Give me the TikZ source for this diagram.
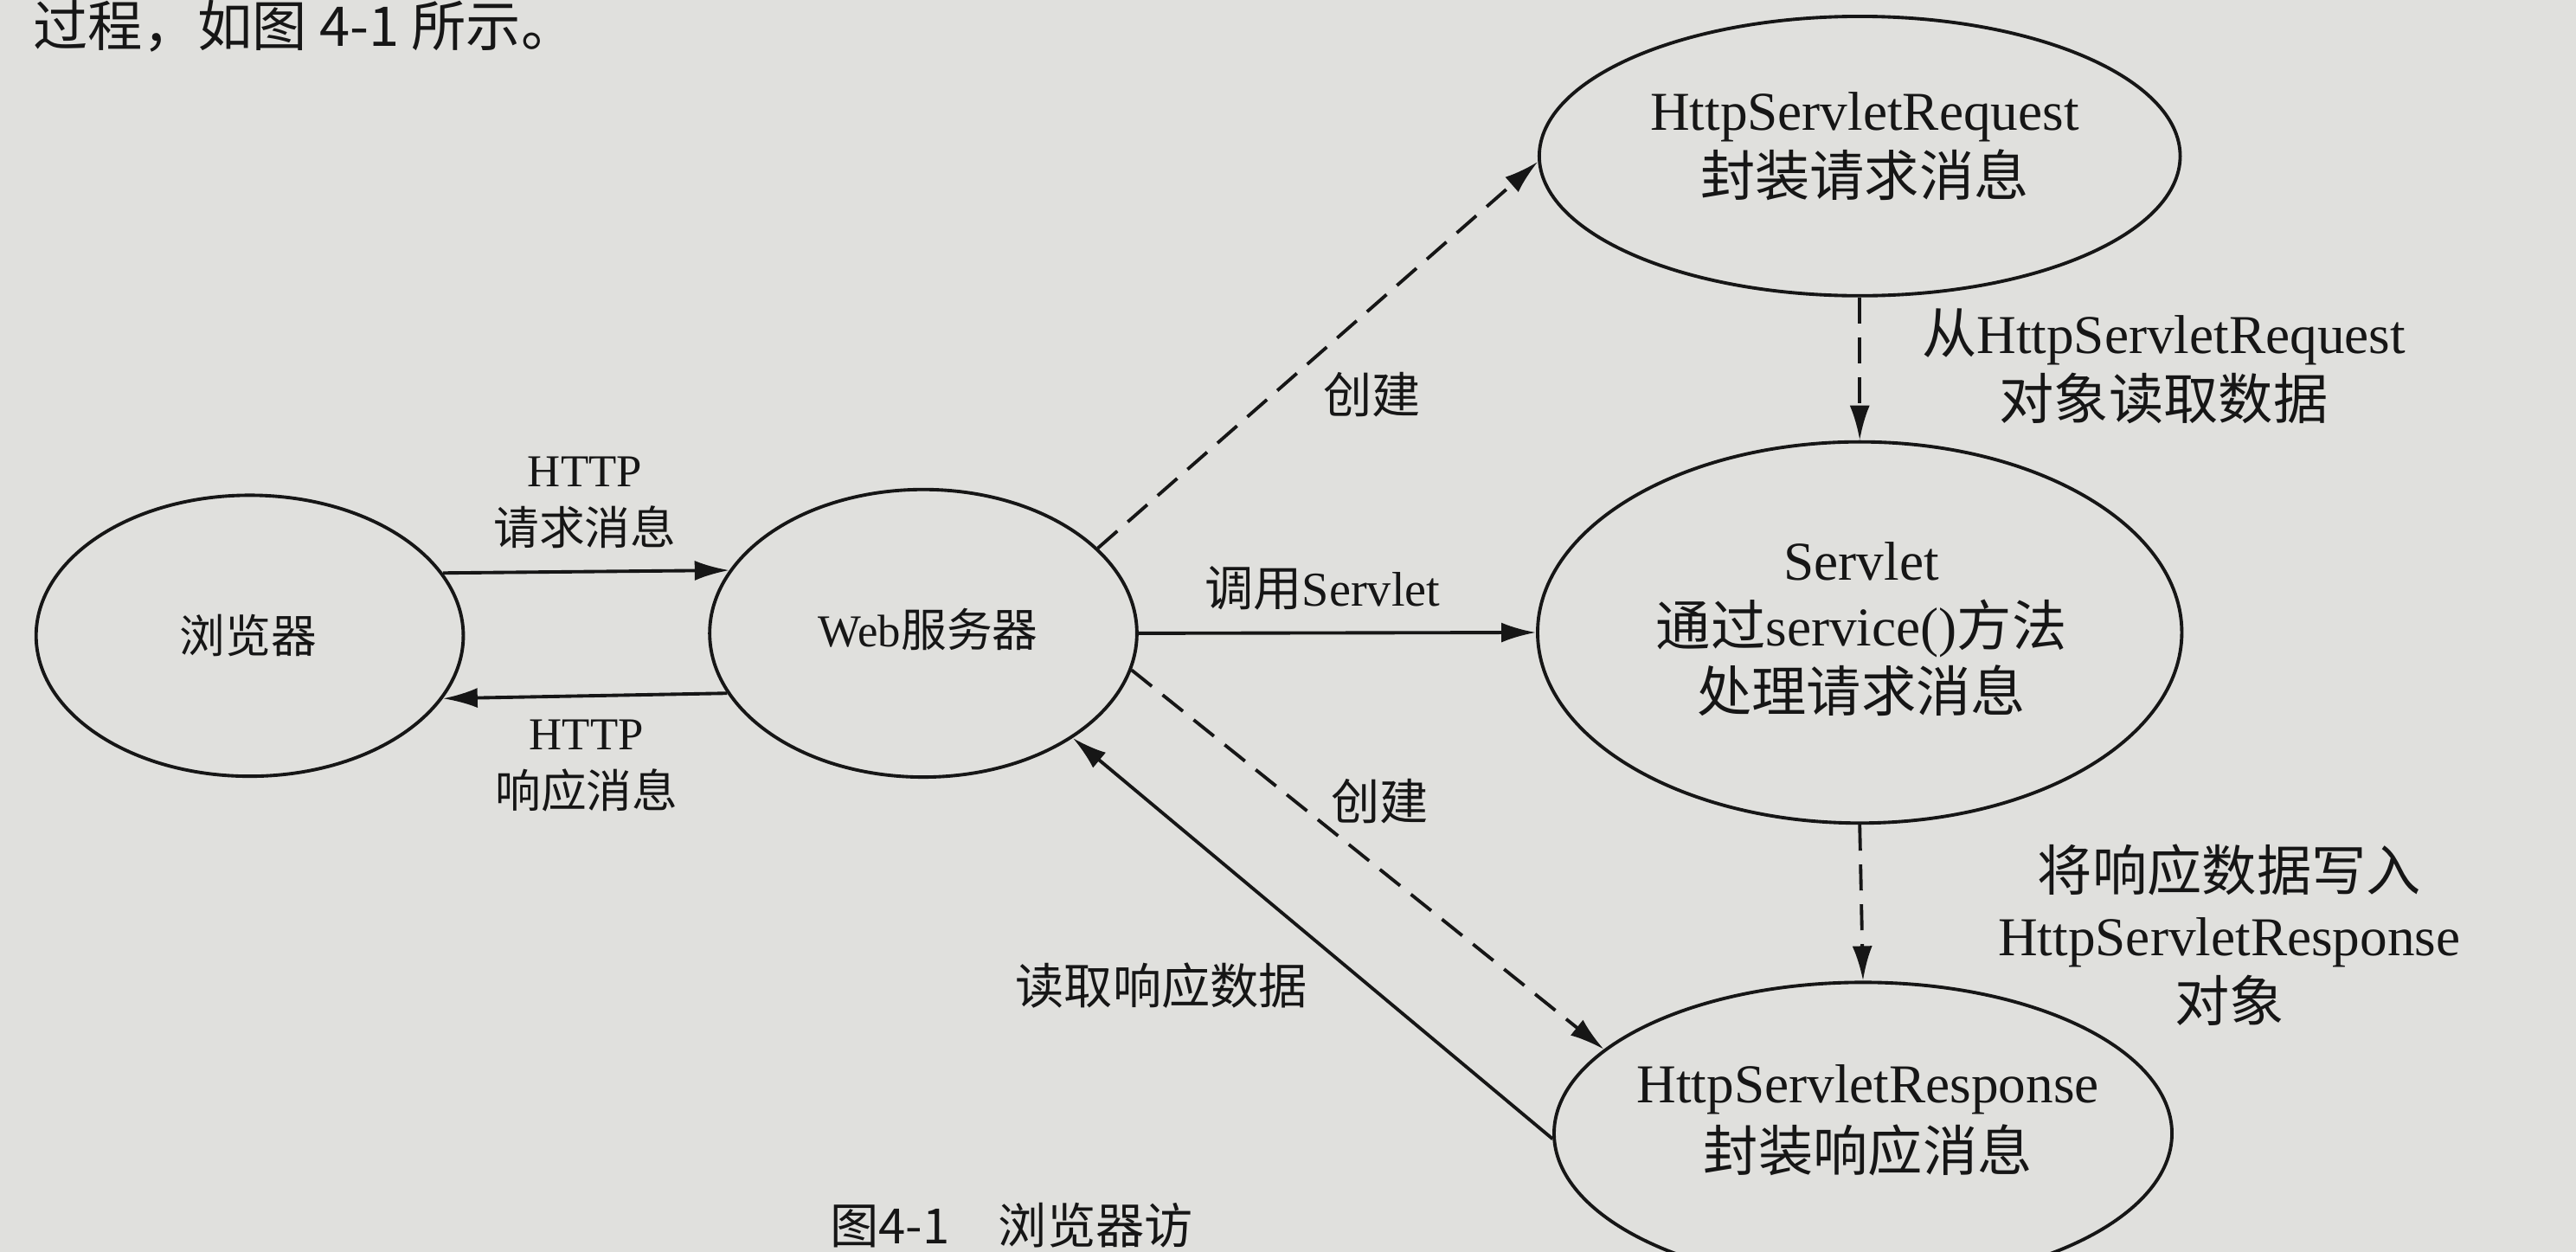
\documentclass[tikz,border=0pt]{standalone}
\usepackage{fontspec}
\setmainfont{Liberation Serif}
\newfontfamily\cjk{Noto Sans CJK SC}
\usetikzlibrary{shapes.geometric,arrows.meta}
\newcommand\zh[1]{{\cjk #1}}
\definecolor{paper}{RGB}{224,224,221}
\definecolor{ink}{RGB}{22,22,22}
\begin{document}
\begin{tikzpicture}[x=0.018986cm,y=-0.018986cm,
  bub/.style={ellipse, draw=ink, line width=1.1pt, inner sep=0pt},
  lab/.style={text=ink, align=center, inner sep=0pt},
  fs/.style={font=\fontsize{15}{19}\selectfont},
  fm/.style={font=\fontsize{16}{20}\selectfont},
  fl/.style={font=\fontsize{18}{21.5}\selectfont},
  flr/.style={font=\fontsize{18}{22.5}\selectfont},
  arr/.style={draw=ink, line width=1.1pt, -{Latex[length=4mm,width=2.3mm]}},
  dsh/.style={arr, dash pattern=on 3mm off 1.6mm},
]
\fill[paper] (0,0) rectangle (1568,762);
\useasboundingbox (0,0) rectangle (1568,762);
\clip (0,0) rectangle (1568,762);

% ellipses
\node[bub, minimum width=4.936cm, minimum height=3.247cm] (br)  at (152,387) {};
\node[bub, minimum width=4.936cm, minimum height=3.323cm] (web) at (562,385.5) {};
\node[bub, minimum width=7.405cm, minimum height=3.228cm] (req) at (1132,95) {};
\node[bub, minimum width=7.443cm, minimum height=4.405cm] (srv) at (1132,385) {};
\node[bub, minimum width=7.139cm, minimum height=3.493cm] (rsp) at (1134,690) {};

% ellipse texts
\node[lab,fs] (brt)  at (151,387) {\zh{浏览器}};
\node[lab,fs] (webt) at (565,383) {Web\zh{服务器}};
\node[lab,fl] (reqt) at (1135,89) {HttpServletRequest\\\zh{封装请求消息}};
\node[lab,fl] (srvt) at (1133,383) {Servlet\\\zh{通过}service()\zh{方法}\\\zh{处理请求消息}};
\node[lab,flr] (rspt) at (1137,682) {HttpServletResponse\\\zh{封装响应消息}};

% connectors
\draw[arr] (br.18.62) -- (web.162.30);
\draw[arr] (web.197.98) -- (br.342.76);
\draw[arr] (web.east) -- (srv.west);
\draw[dsh] (web.26.6) -- (req.181.8);
\draw[dsh] (req.south) -- (srv.north);
\draw[dsh] (web.-10.3) -- (rsp.162);
\draw[dsh] (srv.south) -- (rsp.north);
\draw[arr] (rsp.181) -- (web.-35.4);

% connector labels
\node[lab,fs] (l1) at (356,306) {HTTP\\\zh{请求消息}};
\node[lab,fs] (l2) at (357,466) {HTTP\\\zh{响应消息}};
\node[lab,fm] (l3) at (805,358) {\zh{调用}Servlet};
\node[lab,fm] (l4) at (835,240) {\zh{创建}};
\node[lab,fm] (l5) at (840,488) {\zh{创建}};
\node[lab,fm] (l6) at (707,600) {\zh{读取响应数据}};
\node[lab,fl] (l7) at (1317,223) {\zh{从}HttpServletRequest\\\zh{对象读取数据}};
\node[lab,fl] (l8) at (1357,569) {\zh{将响应数据写入}\\HttpServletResponse\\\zh{对象}};

% page text near the photo edges
\node[lab, anchor=north west, font=\cjk\fontsize{18}{20}\selectfont] (top) at (20,0) {过程，如图 4-1 所示。};
\node[lab, anchor=south west, font=\cjk\fontsize{16}{18}\selectfont] (cap) at (505,760) {图4-1\quad 浏览器访};
\end{tikzpicture}
\end{document}
